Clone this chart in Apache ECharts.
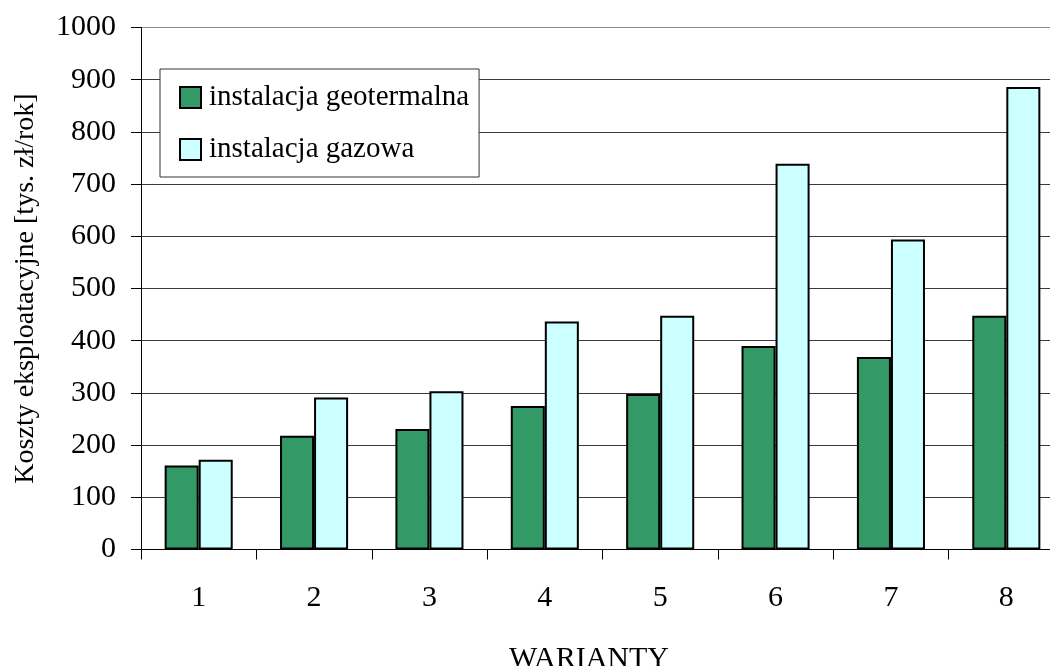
<!DOCTYPE html>
<html>
<head>
<meta charset="utf-8">
<style>
  html, body { margin: 0; padding: 0; background: #fff; }
  #chart { width: 1050px; height: 666px; }
</style>
<script src="https://cdn.jsdelivr.net/npm/echarts@6/dist/echarts.min.js"></script>
</head>
<body>
<div id="chart"></div>
<script>
// Operating costs per variant, thousand PLN per year
const categories = ['1', '2', '3', '4', '5', '6', '7', '8'];
const geotermalna = [161, 218, 231, 275, 298, 390, 369, 448];
const gazowa = [172, 291, 303, 437, 448, 739, 594, 886];
const seriesNames = ['instalacja geotermalna', 'instalacja gazowa'];
const yTicks = [0, 100, 200, 300, 400, 500, 600, 700, 800, 900, 1000];

const serif = "'Liberation Serif', 'Times New Roman', serif";

// Horizontal grid lines: dark for the inner ones, lighter on the top edge
const gridColors = yTicks.map((v, i) => (i === yTicks.length - 1 ? '#8a8a8a' : '#3a3a3a'));

const chart = echarts.init(document.getElementById('chart'), null, { renderer: 'canvas' });

chart.setOption({
  backgroundColor: '#ffffff',
  animation: false,
  textStyle: { fontFamily: serif, color: '#000' },
  grid: { left: 141, top: 27.5, width: 923, height: 522, outerBoundsMode: 'none', containLabel: false },
  legend: {
    data: seriesNames,
    orient: 'vertical',
    left: 160,
    top: 69,
    itemWidth: 21,
    itemHeight: 21,
    itemGap: 22,
    padding: [13.5, 10, 12.5, 19],
    backgroundColor: '#ffffff',
    borderColor: '#333',
    borderWidth: 1,
    icon: 'rect',
    textStyle: { fontFamily: serif, fontSize: 29, lineHeight: 30, color: '#000', padding: [0, 0, 0, 3] },
    itemStyle: { borderColor: '#000', borderWidth: 2 }
  },
  xAxis: {
    type: 'category',
    data: categories,
    name: 'WARIANTY',
    nameLocation: 'middle',
    nameGap: 95,
    nameTextStyle: { fontFamily: serif, fontSize: 30, color: '#000', padding: [0, 27, 0, 0] },
    axisLine: { lineStyle: { color: '#000', width: 1 } },
    axisTick: { show: true, length: 10, lineStyle: { color: '#000' } },
    axisLabel: { fontFamily: serif, fontSize: 30, color: '#000', margin: 34 },
    splitLine: { show: false }
  },
  yAxis: {
    type: 'value',
    min: 0,
    max: 1000,
    interval: 100,
    name: 'Koszty eksploatacyjne [tys. zł/rok]',
    nameLocation: 'middle',
    nameGap: 101,
    nameTextStyle: { fontFamily: serif, fontSize: 28, color: '#000' },
    axisLine: { show: true, lineStyle: { color: '#000', width: 1 } },
    axisTick: { show: true, length: 10, lineStyle: { color: '#000' } },
    axisLabel: { fontFamily: serif, fontSize: 30, color: '#000', margin: 25, formatter: (v) => String(v) },
    splitLine: { show: true, lineStyle: { color: gridColors, width: 1 } }
  },
  series: [
    {
      name: seriesNames[0],
      type: 'bar',
      data: geotermalna,
      barGap: '0%',
      barCategoryGap: '41%',
      itemStyle: { color: '#339966', borderColor: '#000', borderWidth: 2 }
    },
    {
      name: seriesNames[1],
      type: 'bar',
      data: gazowa,
      barGap: '0%',
      barCategoryGap: '41%',
      itemStyle: { color: '#ccffff', borderColor: '#000', borderWidth: 2 }
    }
  ]
});
</script>
</body>
</html>
